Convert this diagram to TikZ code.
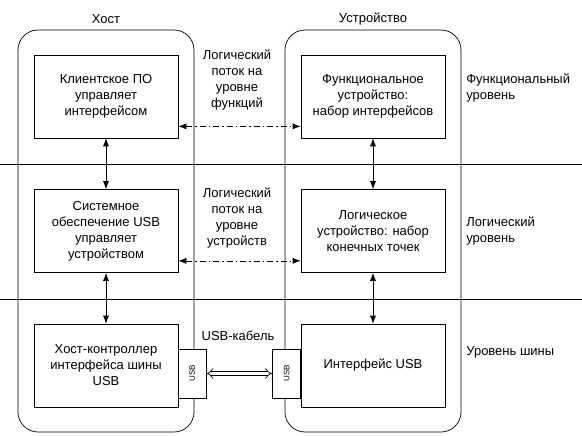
\documentclass[tikz,border=0pt]{standalone}
\usepackage{fontspec}
\setmainfont{Liberation Sans}
\usetikzlibrary{arrows.meta}

\begin{document}
\begin{tikzpicture}[x=1pt,y=-1pt,line width=.7pt,
	box/.style={draw,fill=white,minimum width=144pt,minimum height=83pt,inner sep=0pt,align=center,font=\fontsize{13}{16}\selectfont},
	usbbox/.style={draw,fill=white,minimum width=28pt,minimum height=49pt,inner sep=0pt},
	container/.style={draw,rounded corners=20pt,minimum width=176pt,minimum height=402pt},
	txt/.style={inner sep=0pt,align=center,font=\fontsize{13}{16}\selectfont},
	link/.style={{Latex[length=8pt,width=6pt]}-{Latex[length=8pt,width=6pt]}},
	flow/.style={link,dash pattern=on 6pt off 3pt on 1.5pt off 3pt}]
			\useasboundingbox (0,0) rectangle (582,436);
			
			\node[container] (host) at (106,231) {}; \node[txt] (hostlbl) at (106,19) {Хост};
			\node[container] (dev) at (373,231) {}; \node[txt] (devlbl) at (373,19) {Устройство};
			
			\draw (0,164) -- (582,164);
			\draw (0,299) -- (582,299);
			
			\node[box] (h1) at (106,96.5) {Клиентское ПО\\управляет\\интерфейсом};
			\node[box] (h2) at (106,231) {Системное\\обеспечение USB\\управляет\\устройством};
			\node[box] (h3) at (106,365.5) {Хост-контроллер\\интерфейса шины\\USB};
			
			\node[box] (d1) at (373,96.5) {Функциональное\\устройство:\\набор интерфейсов};
			\node[box] (d2) at (373,231) {Логическое\\устройство: набор\\конечных точек};
			\node[box] (d3) at (373,365.5) {Интерфейс USB};
			
			\node[usbbox] (usbh) at (192,373.5) {\rotatebox{90}{\fontsize{8}{8}\selectfont USB}};
			\node[usbbox] (usbd) at (286.5,373.5) {\rotatebox{90}{\fontsize{8}{8}\selectfont USB}};
			
			\draw[link] (h1) -- (h2); \draw[link] (h2) -- (h3);
			\draw[link] (d1) -- (d2); \draw[link] (d2) -- (d3);
			
			\draw[flow] ([yshift=12pt]h1.south east) -- ([yshift=12pt]d1.south west);
			\draw[flow] ([yshift=12pt]h2.south east) -- ([yshift=12pt]d2.south west);
			\draw[double,double distance=3pt,{Implies}-{Implies}] (usbh) -- (usbd);
			
			\node[txt] (flowf) at (237,80.5) {Логический\\поток на\\уровне\\функций};
			\node[txt] (flowd) at (237,218.5) {Логический\\поток на\\уровне\\устройств};
			\node[txt] (cable) at (238,336) {USB-кабель};
			
			\node[txt,anchor=west,align=left] (lvlf) at (466,88.5) {Функциональный\\уровень};
			\node[txt,anchor=west,align=left] (lvll) at (466,231.5) {Логический\\уровень};
			\node[txt,anchor=west] (lvlb) at (466,352) {Уровень шины};
\end{tikzpicture}
\end{document}
